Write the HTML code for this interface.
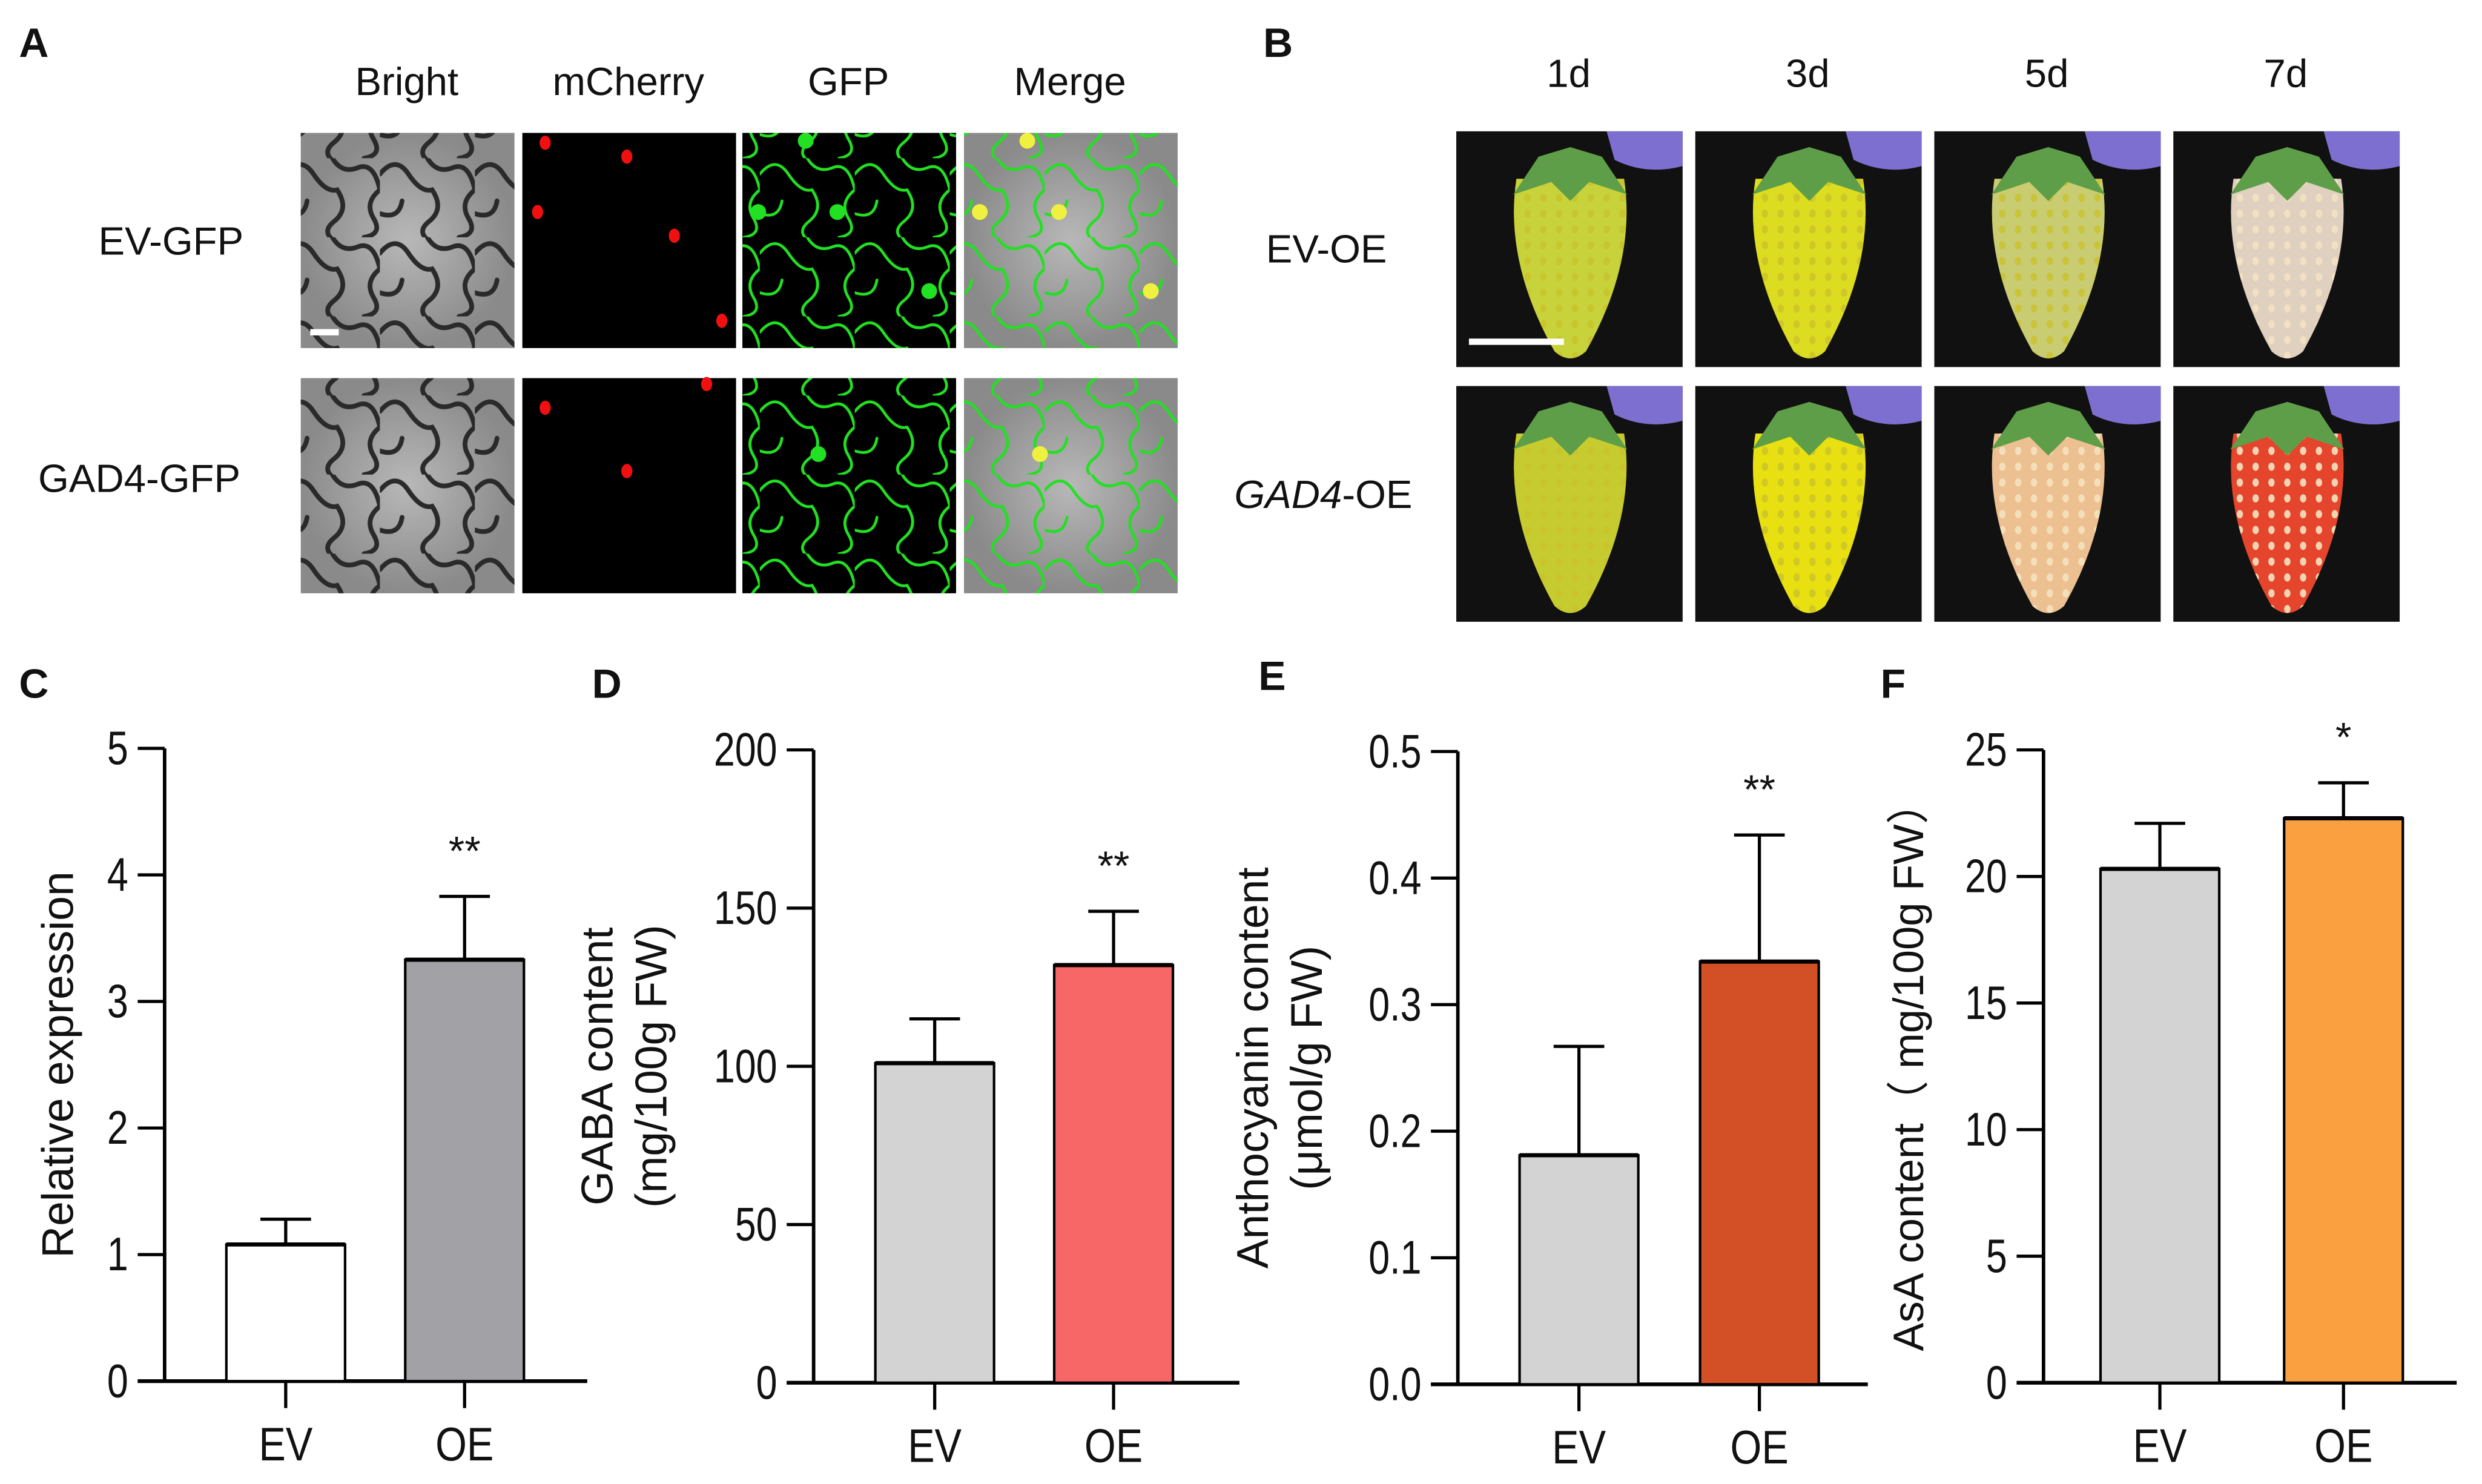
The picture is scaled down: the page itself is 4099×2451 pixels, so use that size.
<!DOCTYPE html>
<html><head><meta charset="utf-8"><style>
html,body{margin:0;padding:0;background:#fff;}
svg{display:block;}
text{font-family:"Liberation Sans",sans-serif;fill:#111;}
</style></head><body>
<svg id="fig" width="4099" height="2451" viewBox="0 0 1568 938" preserveAspectRatio="none" xmlns="http://www.w3.org/2000/svg">
<defs>
<pattern id="cellsDark" width="60" height="50" patternUnits="userSpaceOnUse">
<path d="M0 10 q10 -12 18 0 t15 10 q8 12 -2 20 t5 15 M30 0 q6 10 16 6 t14 14 q-10 8 -4 18 t-6 12 M0 35 q12 4 14 -8" fill="none" stroke="#2a2a2a" stroke-width="3" stroke-linecap="round"/>
</pattern>
<pattern id="cellsGreen" width="60" height="50" patternUnits="userSpaceOnUse">
<path d="M0 10 q10 -12 18 0 t15 10 q8 12 -2 20 t5 15 M30 0 q6 10 16 6 t14 14 q-10 8 -4 18 t-6 12 M0 35 q12 4 14 -8" fill="none" stroke="#22e022" stroke-width="1.8" stroke-linecap="round"/>
</pattern>
<pattern id="seeds" width="10" height="10" patternUnits="userSpaceOnUse">
<ellipse cx="5" cy="5" rx="2" ry="2.6" fill="#c9c22a" opacity="0.8"/>
</pattern>
<pattern id="seedsR" width="10" height="10" patternUnits="userSpaceOnUse">
<ellipse cx="5" cy="5" rx="2" ry="2.6" fill="#f4e4c0" opacity="0.9"/>
</pattern>
<radialGradient id="grayg"><stop offset="0" stop-color="#b8b8b8"/><stop offset="1" stop-color="#8a8a8a"/></radialGradient>
</defs>
<g id="panelA"></g>
<g id="panelB"></g>
<g id="charts"></g>
</svg>
<script>
// ---- chart data ----
const cCategories = ["EV","OE"];
const cValues = [1.08, 3.33];
const cErrors = [1.28, 3.83];
const cTicks = ["0","1","2","3","4","5"];
const cSig = ["", "**"];

const dCategories = ["EV","OE"];
const dValues = [101, 132];
const dErrors = [115, 149];
const dTicks = ["0","50","100","150","200"];
const dSig = ["", "**"];

const eCategories = ["EV","OE"];
const eValues = [0.181, 0.334];
const eErrors = [0.267, 0.434];
const eTicks = ["0.0","0.1","0.2","0.3","0.4","0.5"];
const eSig = ["", "**"];

const fCategories = ["EV","OE"];
const fValues = [20.3, 22.3];
const fErrors = [22.1, 23.7];
const fTicks = ["0","5","10","15","20","25"];
const fSig = ["", "*"];

const NS = "http://www.w3.org/2000/svg";
function mk(tag, attrs, parent, txt){
  const e = document.createElementNS(NS, tag);
  for (const k in attrs) e.setAttribute(k, attrs[k]);
  if (txt !== undefined) e.textContent = txt;
  parent.appendChild(e);
  return e;
}

// ---- Panel A ----
const pA = document.getElementById('panelA');
let t = mk('text',{x:12,y:36,'font-size':26,'font-weight':'bold'},pA,'A');


const aHeads = ["Bright","mCherry","GFP","Merge"];
const aCols = [190,330,469,609];
aHeads.forEach((h,i)=>{
  const tt = mk('text',{x:aCols[i]+67,y:60,'font-size':25,'text-anchor':'middle'},pA,h);
  
  
});
const aRows = [{y:84,label:"EV-GFP",lx:108,ly:161},{y:239,label:"GAD4-GFP",lx:88,ly:311}];
const redDots = [[[12,5],[55,12],[8,40],[80,52],[105,95]],[[97,3],[12,15],[55,47]]];
const greenDots = [[[10,50],[60,50],[118,100],[40,5]],[[48,48]]];
aRows.forEach((r,ri)=>{
  const lt = mk('text',{x:r.lx,y:r.ly,'font-size':25,'text-anchor':'middle'},pA,r.label);
  
  
  const g1 = mk('g',{},pA);
  
  
  mk('rect',{x:190,y:r.y,width:135,height:136,fill:'url(#grayg)'},g1);
  mk('rect',{x:190,y:r.y,width:135,height:136,fill:'url(#cellsDark)'},g1);
  if(ri===0) mk('rect',{x:196,y:r.y+124,width:18,height:4,fill:'#fff'},g1);
  const g2 = mk('g',{},pA);
  
  
  mk('rect',{x:330,y:r.y,width:135,height:136,fill:'#000'},g2);
  redDots[ri].forEach(d=>mk('ellipse',{cx:330+d[0]*1.2,cy:r.y+d[1]*1.25,rx:3.5,ry:4.5,fill:'#f01010'},g2));
  const g3 = mk('g',{},pA);
  
  
  mk('rect',{x:469,y:r.y,width:135,height:136,fill:'#000'},g3);
  mk('rect',{x:469,y:r.y,width:135,height:136,fill:'url(#cellsGreen)'},g3);
  greenDots[ri].forEach(d=>mk('circle',{cx:469+d[0],cy:r.y+d[1],r:5,fill:'#22e022'},g3));
  const g4 = mk('g',{},pA);
  
  
  mk('rect',{x:609,y:r.y,width:135,height:136,fill:'url(#grayg)'},g4);
  mk('rect',{x:609,y:r.y,width:135,height:136,fill:'url(#cellsGreen)'},g4);
  greenDots[ri].forEach(d=>mk('circle',{cx:609+d[0],cy:r.y+d[1],r:5,fill:'#f0f040'},g4));
});

// ---- Panel B ----
const pB = document.getElementById('panelB');
t = mk('text',{x:798,y:36,'font-size':26,'font-weight':'bold'},pB,'B');


const bHeads = ["1d","3d","5d","7d"];
const bCols = [920,1071,1222,1373];
bHeads.forEach((h,i)=>{
  const tt = mk('text',{x:bCols[i]+71,y:55,'font-size':25,'text-anchor':'middle'},pB,h);
  
  
});
const bl1 = mk('text',{x:838,y:166,'font-size':25,'text-anchor':'middle'},pB,'EV-OE');


const bl2 = mk('text',{x:836,y:321,'font-size':25,'text-anchor':'middle'},pB);


mk('tspan',{'font-style':'italic'},bl2,'GAD4');
mk('tspan',{},bl2,'-OE');
const fruitColors = [["#c8d23a","#dcdc20","#c9cc70","#e0d0c0"],["#c6cc30","#e8e010","#ecc090","#e4452c"]];
const bRows = [83,244];
bRows.forEach((ry,ri)=>{
  bCols.forEach((cx,ci)=>{
    const g = mk('g',{},pB);
    
    
    mk('rect',{x:cx,y:ry,width:143,height:149,fill:'#111'},g);
    mk('path',{d:`M${cx+95} ${ry} L${cx+143} ${ry} L${cx+143} ${ry+22} Q${cx+120} ${ry+28} ${cx+100} ${ry+18} Z`,fill:'#7d6fd0'},g);
    const fx = cx+72, fy = ry+22;
    mk('path',{d:`M${fx-34} ${fy+8} Q${fx-42} ${fy+60} ${fx-10} ${fy+117} Q${fx} ${fy+126} ${fx+10} ${fy+117} Q${fx+42} ${fy+60} ${fx+34} ${fy+8} Z`,fill:fruitColors[ri][ci]},g);
    mk('path',{d:`M${fx-34} ${fy+8} Q${fx-42} ${fy+60} ${fx-10} ${fy+117} Q${fx} ${fy+126} ${fx+10} ${fy+117} Q${fx+42} ${fy+60} ${fx+34} ${fy+8} Z`,fill:ci===3||(ri===1&&ci===2)?'url(#seedsR)':'url(#seeds)'},g);
    mk('path',{d:`M${fx-36} ${fy+18} L${fx-20} ${fy-6} L${fx} ${fy-12} L${fx+20} ${fy-6} L${fx+36} ${fy+18} L${fx+12} ${fy+10} L${fx} ${fy+22} L${fx-12} ${fy+10} Z`,fill:'#5f9e48'},g);
  });
});
const sb = mk('rect',{x:928,y:214,width:60,height:4,fill:'#fff'},pB);



// ---- Bar charts ----
const charts = document.getElementById('charts');
function barChart(o){
  const g = mk('g',{},charts);
  
  
  const n = o.ticks.length-1;
  const maxV = parseFloat(o.ticks[n]), minV = parseFloat(o.ticks[0]);
  const y = v => o.y0 - (v-minV)/(maxV-minV)*(o.y0-o.yTop);
  const pl = mk('text',{x:o.lx,y:o.ly,'font-size':26,'font-weight':'bold'},g,o.id.toUpperCase());
  
  
  const ya = mk('line',{x1:o.ax,y1:o.yTop,x2:o.ax,y2:o.y0,stroke:'#000','stroke-width':2.2},g);
  
  
  const xa = mk('line',{x1:o.ax-17,y1:o.y0,x2:o.xEnd,y2:o.y0,stroke:'#000','stroke-width':2.4},g);
  
  
  o.ticks.forEach(tk=>{
    const ty = y(parseFloat(tk));
    mk('line',{x1:o.ax-17,y1:ty,x2:o.ax,y2:ty,stroke:'#000','stroke-width':2},g);
    const lx = o.ax-23;
    const tl = mk('text',{x:lx,y:ty+10,'font-size':30,'text-anchor':'end',transform:`translate(${lx} 0) scale(0.8 1) translate(${-lx} 0)`},g,tk);
    
    
  });
  o.cats.forEach((c,i)=>{
    const bx = o.bx[i], bw = 75;
    const cx = bx + bw/2;
    const top = y(o.vals[i]), et = y(o.errs[i]);
    const el = mk('line',{x1:cx,y1:et,x2:cx,y2:top,stroke:'#000','stroke-width':2},g);
    
    
    mk('line',{x1:cx-16,y1:et,x2:cx+16,y2:et,stroke:'#000','stroke-width':2},g);
    const r = mk('rect',{x:bx,y:top,width:bw,height:o.y0-top,fill:o.colors[i],stroke:'#000','stroke-width':1.6},g);
    
    
    mk('line',{x1:bx,y1:top,x2:bx+bw,y2:top,stroke:'#000','stroke-width':2.6},g);
    mk('line',{x1:cx,y1:o.y0,x2:cx,y2:o.y0+17,stroke:'#000','stroke-width':2},g);
    const xl = mk('text',{x:cx,y:o.y0+50,'font-size':30,'text-anchor':'middle',transform:`translate(${cx} 0) scale(0.85 1) translate(${-cx} 0)`},g,c);
    
    
    if (o.sig[i]) {
      const s = mk('text',{x:cx,y:et-20,'font-size':26,'text-anchor':'middle'},g,o.sig[i]);
      
      
    }
  });
  o.titles.forEach((tt,i)=>{
    const yt = mk('text',{x:0,y:0,'font-size':o.tfs||28,'text-anchor':'middle',transform:`translate(${o.tx[i]} ${(o.yTop+o.y0)/2}) rotate(-90)`},g,tt);
    
    
  });
}
barChart({id:'c',lx:12,ly:441,ax:104,yTop:473,y0:873,xEnd:371,bx:[143,256],cats:cCategories,vals:cValues,errs:cErrors,ticks:cTicks,sig:cSig,colors:['#ffffff','#a2a1a6'],titles:['Relative expression'],tx:[46]});
barChart({id:'d',lx:374,ly:441,ax:514,yTop:474,y0:874,xEnd:783,bx:[553,666],cats:dCategories,vals:dValues,errs:dErrors,ticks:dTicks,sig:dSig,colors:['#d3d3d3','#f76767'],titles:['GABA content','(mg/100g FW)'],tx:[387,421]});
barChart({id:'e',lx:795,ly:436,ax:921,yTop:475,y0:875,xEnd:1180,bx:[960,1074],cats:eCategories,vals:eValues,errs:eErrors,ticks:eTicks,sig:eSig,colors:['#d3d3d3','#d35026'],titles:['Anthocyanin content','(μmol/g FW)'],tx:[801,835]});
barChart({id:'f',lx:1188,ly:441,ax:1291,yTop:474,y0:874,xEnd:1552,bx:[1327,1443],cats:fCategories,vals:fValues,errs:fErrors,ticks:fTicks,sig:fSig,colors:['#d3d3d3','#fba040'],titles:['AsA content（ mg/100g FW）'],tx:[1215],tfs:27});
</script>
</body></html>
